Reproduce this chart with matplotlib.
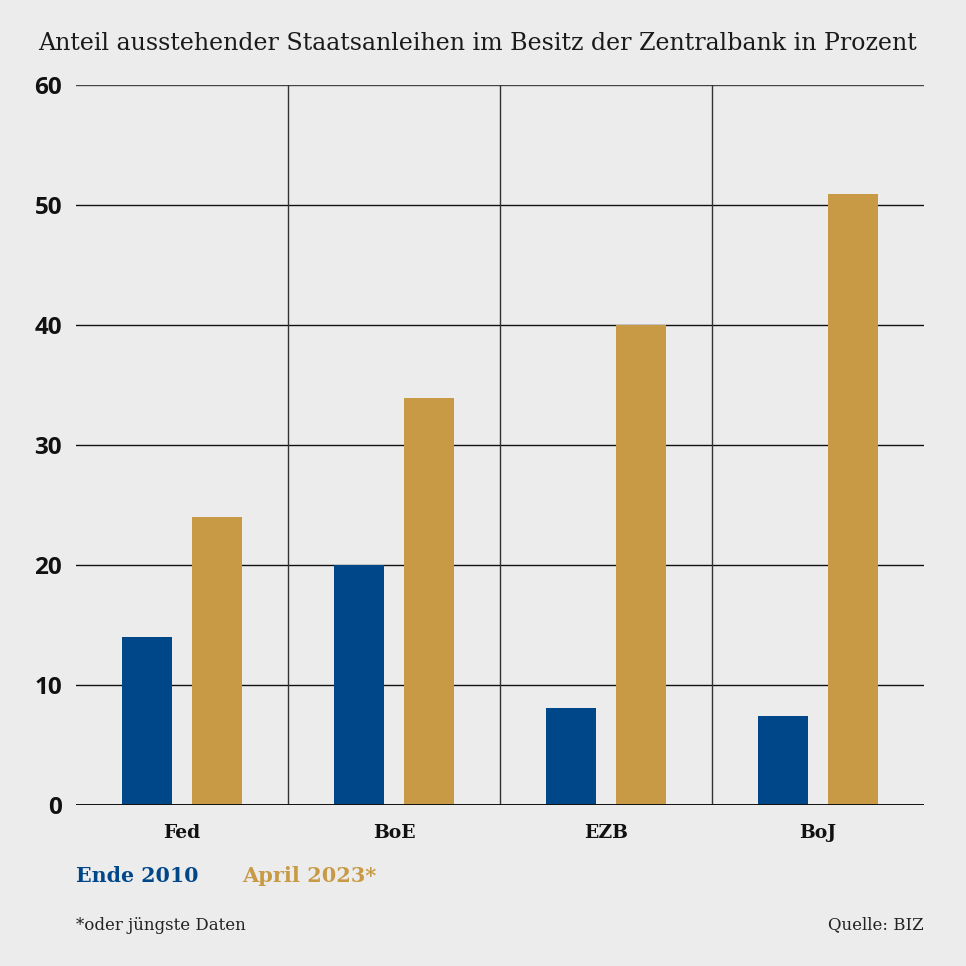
import matplotlib
matplotlib.use("Agg")
import matplotlib.pyplot as plt
import numpy as np

categories = ["Fed", "BoE", "EZB", "BoJ"]
ende_2010 = [14.0, 20.0, 8.1, 7.4]
april_2023 = [24.0, 33.9, 40.0, 50.9]
series_labels = ["Ende 2010", "April 2023*"]
yticks = [0, 10, 20, 30, 40, 50, 60]

BG = "#ececec"
BLUE = "#00478a"
GOLD = "#c89a45"
SERIF = "DejaVu Serif"
SANS = "Open Sans"

fig = plt.figure(figsize=(9.66, 9.66), dpi=100, facecolor=BG)
W = H = 966
ax = fig.add_axes([76 / W, 1 - 805 / H, (924 - 76) / W, (805 - 85) / H])
ax.set_facecolor(BG)

x = np.arange(len(categories))
bw = 50 / 212
ax.bar(x - 0.167, ende_2010, width=bw, color=BLUE, zorder=3)
ax.bar(x + 0.167, april_2023, width=bw, color=GOLD, zorder=3)

ax.set_xlim(-0.5, len(categories) - 0.5)
ax.set_ylim(0, 60)
for v in yticks[1:]:
    ax.axhline(v, color="#111111" if v < 60 else "#444444", lw=1.0, zorder=1)
ax.axhline(0, color="#111111", lw=1.4, zorder=4)
for xv in x[:-1] + 0.5:
    ax.axvline(xv, color="#333333", lw=1.0, zorder=1)

for s in ax.spines.values():
    s.set_visible(False)
ax.set_yticks(yticks)
ax.set_yticklabels([str(v) for v in yticks], fontfamily=SANS, fontweight="bold",
                   fontsize=17.5, color="#111111")
ax.tick_params(axis="y", length=0, pad=10)
ax.set_xticks(x)
ax.set_xticklabels(categories, fontfamily=SERIF, fontweight="bold", fontsize=13.5,
                   color="#111111")
ax.tick_params(axis="x", length=0, pad=14)

fig.text(38 / W, 1 - 44 / H, "Anteil ausstehender Staatsanleihen im Besitz der Zentralbank in Prozent",
         fontfamily=SERIF, fontsize=17.1, color="#1a1a1a", va="center", ha="left")

fig.text(76 / W, 1 - 876 / H, series_labels[0], fontfamily=SERIF, fontweight="bold",
         fontsize=14.8, color=BLUE, va="center", ha="left")
fig.text(242 / W, 1 - 876 / H, series_labels[1], fontfamily=SERIF, fontweight="bold",
         fontsize=15, color=GOLD, va="center", ha="left")

fig.text(76 / W, 1 - 925 / H, "*oder jüngste Daten", fontfamily=SERIF, fontsize=12,
         color="#222222", va="center", ha="left")
fig.text(924 / W, 1 - 925 / H, "Quelle: BIZ", fontfamily=SERIF, fontsize=12,
         color="#222222", va="center", ha="right")

fig.savefig("out.png", dpi=100, facecolor=BG)
